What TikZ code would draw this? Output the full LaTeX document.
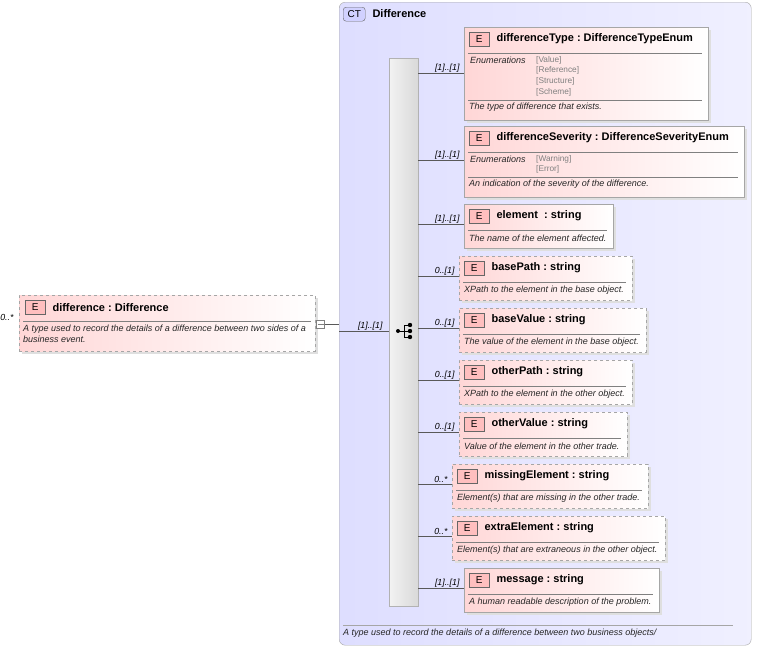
\documentclass[tikz,border=0pt]{standalone}
\usepackage{fontspec}
\setmainfont{Liberation Sans}
\begin{document}
\begin{tikzpicture}[x=1pt,y=-1pt,
  box/.style={draw=gray!70,left color=red!16,right color=white,anchor=north west,inner sep=0},
  opt/.style={box,dashed},
  badge/.style={draw=gray!80!black,fill=red!25,anchor=north west,minimum width=20pt,minimum height=14pt,inner sep=0,font=\fontsize{10}{11}\selectfont},
  ttl/.style={anchor=west,font=\bfseries\fontsize{11}{12}\selectfont},
  dsc/.style={anchor=west,font=\itshape\fontsize{9}{11}\selectfont,text=black!85,align=left,inner sep=1pt},
  card/.style={anchor=east,font=\itshape\fontsize{8.8}{9}\selectfont},
  en/.style={anchor=west,font=\fontsize{8.3}{9}\selectfont,text=gray,inner sep=1pt},
  conn/.style={draw=gray!70!black,line width=0.5pt}]
\useasboundingbox (0,0) rectangle (757,648);
% CT container
\node[draw=gray!70,rounded corners=6pt,left color=blue!13,right color=blue!6,anchor=north west,minimum width=412,minimum height=643,inner sep=0] (ct) at (339,2) {};
\node[draw=gray!80!black,fill=blue!18,rounded corners=3pt,anchor=north west,minimum width=22,minimum height=14,inner sep=0,font=\fontsize{10}{11}\selectfont] (ctb) at (343,7) {CT};
\node[ttl] (ctn) at (369,13.5) {Difference};
\draw[gray!70] (343,625) -- (733,625);
\node[dsc] (ctd) at (342,633) {A type used to record the details of a difference between two business objects/};
% sequence bar
\node[draw=gray!60,left color=gray!10,right color=gray!30,anchor=north west,minimum width=29,minimum height=548,inner sep=0] (bar) at (389,58) {};
\draw[line width=0.8pt] (398,331) -- (404,331) (404,325) -- (404,337) (404,325) -- (410,325) (404,337) -- (410,337) (404,331)--(410,331);
\fill (398,331) circle (2) (410,325) circle (2.2) (410,331) circle (2.2) (410,337) circle (2.2);
% left element
\fill[gray!25] (22,298) rectangle (318,354);
\node[opt,minimum width=296,minimum height=56] (diff) at (19,295) {};
\node[badge] (db) at (25,300) {E};
\node[ttl] at (49,307.5) {difference\;:\;Difference};
\draw[gray] (23,321) -- (311,321);
\node[dsc] at (22,334) {A type used to record the details of a difference between two sides of a\\business event.};
\node[card] at (17,317) {0..*};
\node[draw=gray,fill=white,minimum size=8,inner sep=0] (pl) at (320.5,324) {};
\draw[gray] (317.5,324) -- (323.5,324);
\draw[conn] (pl.east) -- (339,324);
\draw[conn] (339,331) -- (bar.west |- 0,331);
\node[card] at (386,326) {[1]..[1]};
% children
\newcommand\kid[9]{% name, x1,y1,w,h, style, card, conny, title
  \fill[gray!25] (#2+3,#3+3) rectangle ++(#4,#5);
  \node[#6,minimum width=#4,minimum height=#5] (#1) at (#2,#3) {};
  \node[badge] (#1b) at (#2+5,#3+5) {E};
  \node[ttl] (#1t) at (#2+29,#3+11.5) {#9};
  \draw[gray] (#2+4,#3+26) -- (#2+#4-6,#3+26);
  \draw[conn] (bar.east |- 0,#8) -- (#1.west |- 0,#8);
  \node[card] (#1c) at (#2-1,#8-5) {#7};
}
\kid{k1}{464}{27}{244}{93}{box}{[1]..[1]}{73}{differenceType\;:\;DifferenceTypeEnum}
\node[dsc] at (469,60) {Enumerations};
\node[en] at (535,60) {[Value]};
\node[en] at (535,70) {[Reference]};
\node[en] at (535,81) {[Structure]};
\node[en] at (535,92) {[Scheme]};
\draw[gray] (468,100) -- (702,100);
\node[dsc] at (468,107) {The type of difference that exists.};
\kid{k2}{464}{126}{280}{71}{box}{[1]..[1]}{160}{differenceSeverity\;:\;DifferenceSeverityEnum}
\node[dsc] at (469,159) {Enumerations};
\node[en] at (535,159) {[Warning]};
\node[en] at (535,169) {[Error]};
\draw[gray] (468,177) -- (738,177);
\node[dsc] at (468,184) {An indication of the severity of the difference.};
\kid{k3}{464}{204}{149}{44}{box}{[1]..[1]}{224}{element\;\;:\;string}
\node[dsc] at (468,238) {The name of the element affected.};
\kid{k4}{459}{256}{173}{44}{opt}{0..[1]}{276}{basePath\;:\;string}
\node[dsc] at (463,290) {XPath to the element in the base object.};
\kid{k5}{459}{308}{187}{44}{opt}{0..[1]}{328}{baseValue\;:\;string}
\node[dsc] at (463,342) {The value of the element in the base object.};
\kid{k6}{459}{360}{173}{44}{opt}{0..[1]}{380}{otherPath\;:\;string}
\node[dsc] at (463,394) {XPath to the element in the other object.};
\kid{k7}{459}{412}{168}{44}{opt}{0..[1]}{432}{otherValue\;:\;string}
\node[dsc] at (463,446) {Value of the element in the other trade.};
\kid{k8}{452}{464}{196}{44}{opt}{0..*}{484}{missingElement\;:\;string}
\node[dsc] at (456,498) {Element(s) that are missing in the other trade.};
\kid{k9}{452}{516}{213}{44}{opt}{0..*}{536}{extraElement\;:\;string}
\node[dsc] at (456,550) {Element(s) that are extraneous in the other object.};
\kid{k10}{464}{568}{195}{44}{box}{[1]..[1]}{588}{message\;:\;string}
\node[dsc] at (468,602) {A human readable description of the problem.};
\end{tikzpicture}
\end{document}
